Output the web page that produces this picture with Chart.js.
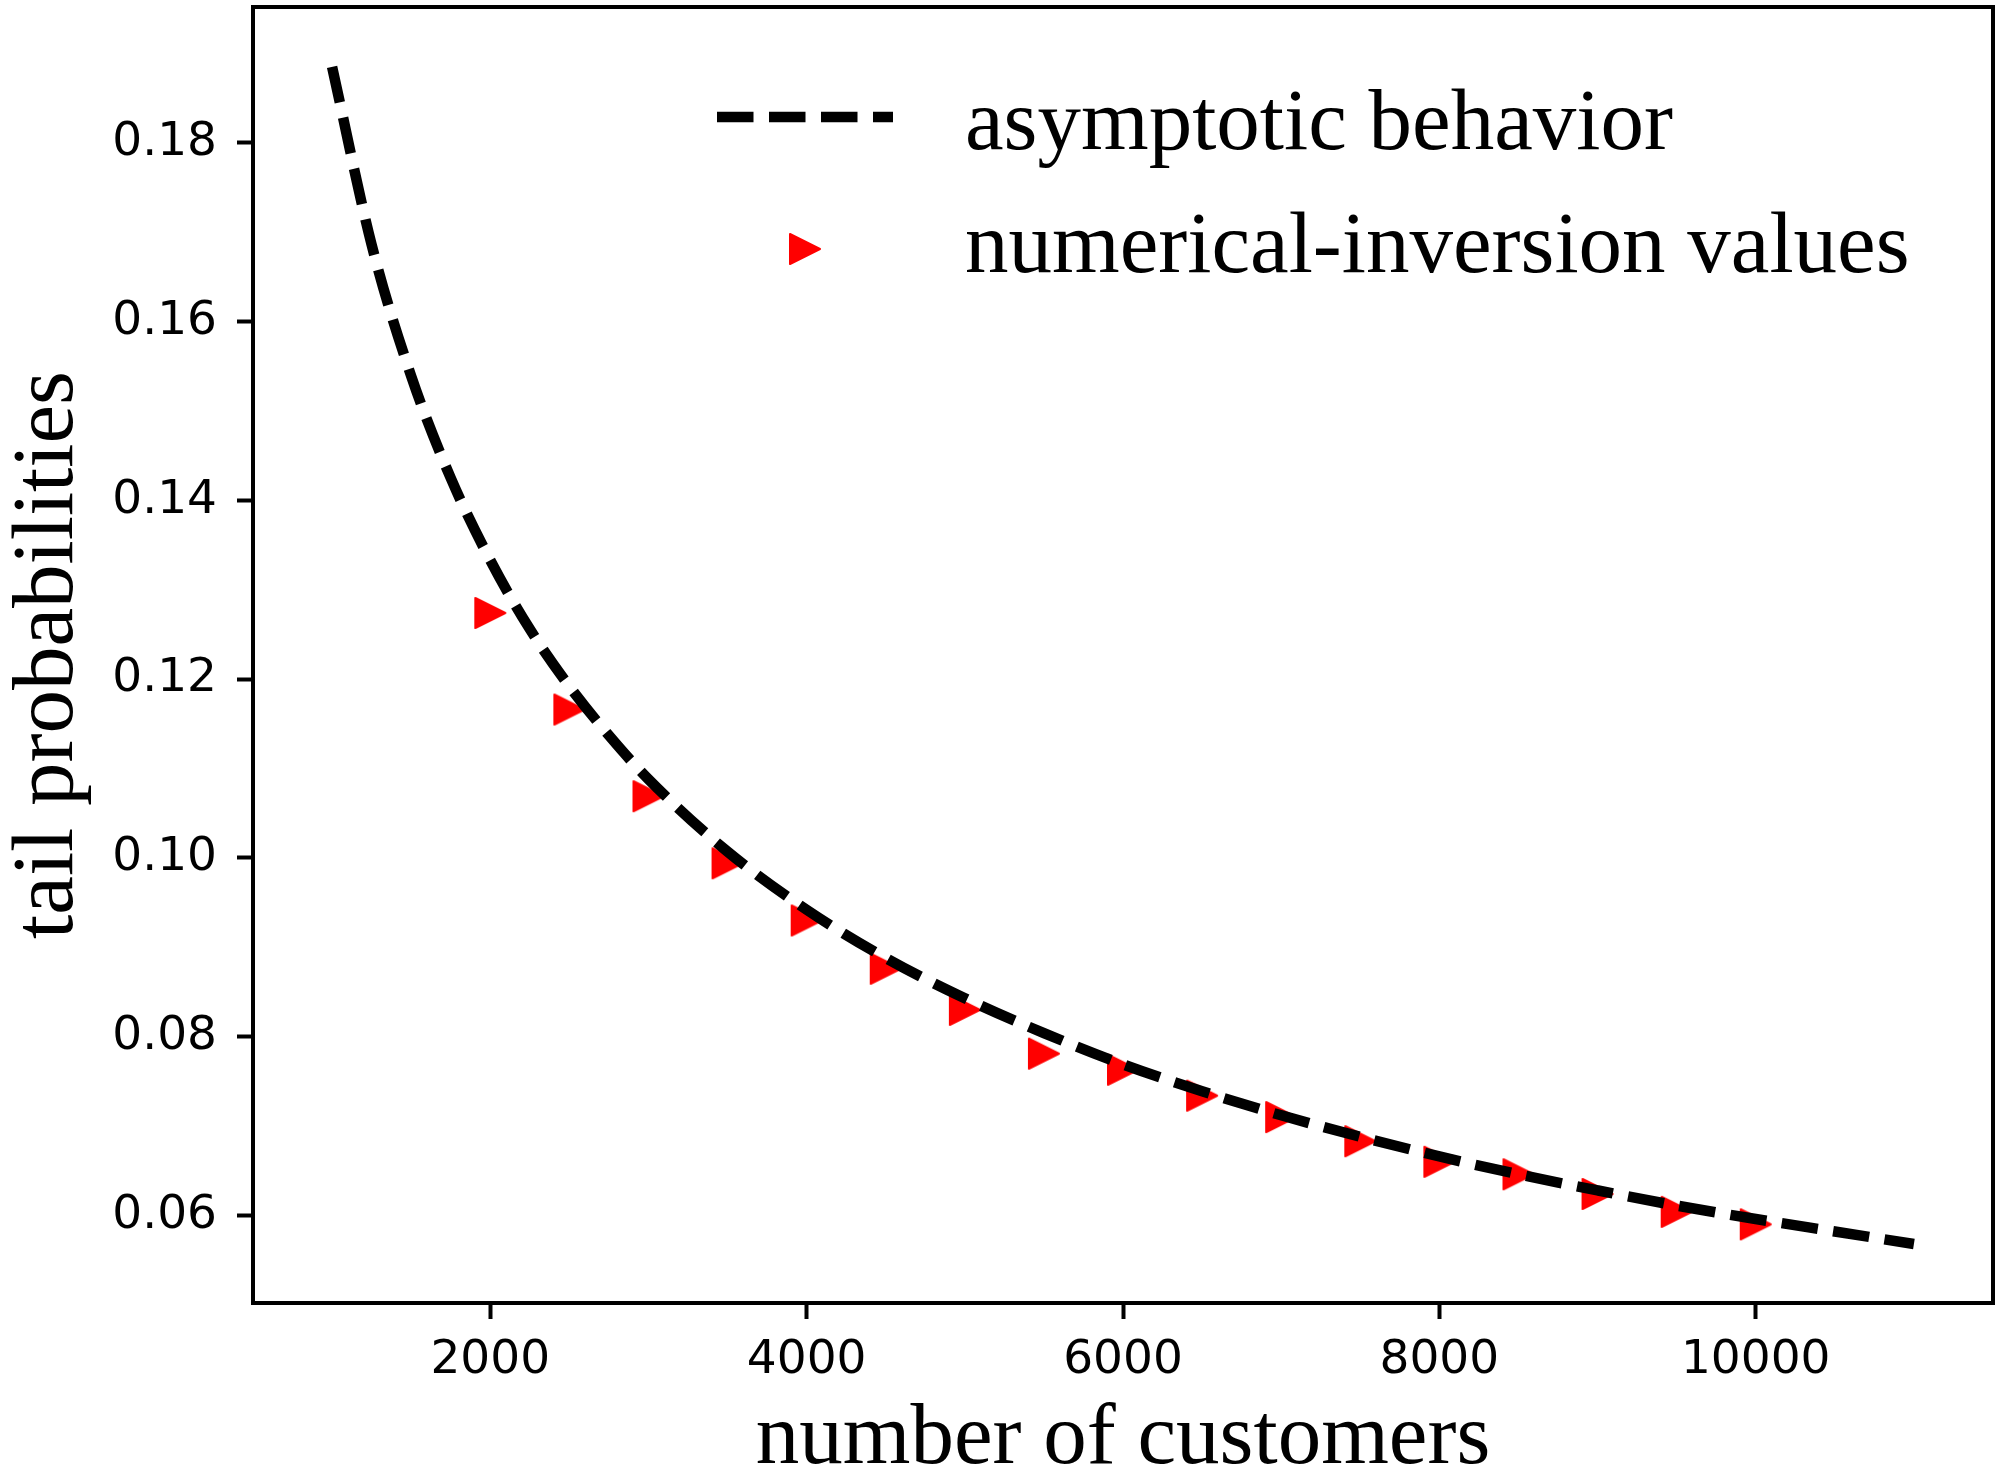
<!DOCTYPE html>
<html>
<head>
<meta charset="utf-8">
<script src="https://cdn.jsdelivr.net/npm/chart.js@4.4.1/dist/chart.umd.min.js"></script>
<style>
  html, body { margin: 0; padding: 0; background: #fff; }
  canvas { display: block; }
</style>
</head>
<body>
<canvas id="tailChart" width="2000" height="1479"></canvas>
<script>
// asymptotic curve
const curveX = [1000, 1250, 1500, 1750, 2000, 2250, 2500, 2750, 3000, 3500, 4000, 4500, 5000,
                5500, 6000, 6500, 7000, 7500, 8000, 8500, 9000, 9500, 10000, 10500, 11000];
const curveY = [0.1885, 0.1686, 0.1539, 0.1425, 0.1333, 0.1256, 0.1192, 0.1137, 0.1088, 0.1007,
                0.0942, 0.0888, 0.0843, 0.0804, 0.0769, 0.0739, 0.0712, 0.0688, 0.0666, 0.0646,
                0.0628, 0.0611, 0.0596, 0.0582, 0.0568];

// numerical-inversion markers
const markerX = [2000, 2500, 3000, 3500, 4000, 4500, 5000, 5500, 6000, 6500, 7000, 7500, 8000,
                 8500, 9000, 9500, 10000];
const markerY = [0.1274, 0.1166, 0.1069, 0.0994, 0.0930, 0.0876, 0.0830, 0.0781, 0.0763, 0.0734,
                 0.0710, 0.0683, 0.0660, 0.0646, 0.0624, 0.0604, 0.0590];

const xTicks = [2000, 4000, 6000, 8000, 10000];
const yTicks = [0.06, 0.08, 0.10, 0.12, 0.14, 0.16, 0.18];

const labels = ['asymptotic behavior', 'numerical-inversion values'];

const serif = '87px "Liberation Serif", "Times New Roman", serif';
const LINE_W = 10.5;
const DASH = [36.5, 15.5];

// right-pointing triangle marker like matplotlib '>'
const makeTriangle = function(size, color) {
    var c = document.createElement('canvas');
    c.width = size + 4;
    c.height = size + 4;
    var g = c.getContext('2d');
    g.fillStyle = color;
    g.strokeStyle = color;
    g.lineWidth = 2;
    g.lineJoin = 'round';
    g.beginPath();
    g.moveTo(3, 3);
    g.lineTo(size + 1, c.height / 2);
    g.lineTo(3, size + 1);
    g.closePath();
    g.fill();
    g.stroke();
    return c;
}
const triangle = makeTriangle(32, '#ff0000');

const zip = (xs, ys) => xs.map((x, i) => ({x: x, y: ys[i]}));

// no extra room for tick labels, the plot box is fixed
const fixBox = function(s, size) {
    if (s.isHorizontal()) s.height = size; else s.width = size;
    s.paddingTop = 0;
    s.paddingBottom = 0;
    s.paddingLeft = 0;
    s.paddingRight = 0;
}

// full box around the plot + legend + axis titles
const framePlugin = {
    id: 'frame',
    afterDatasetsDraw(chart) {
        const ctx = chart.ctx;
        const a = chart.chartArea;
        ctx.save();
        ctx.strokeStyle = '#000';
        ctx.lineWidth = 4;
        ctx.strokeRect(a.left, a.top, a.right - a.left, a.bottom - a.top);

        // legend, upper right inside the axes
        const ds = chart.data.datasets;
        ctx.font = serif;
        ctx.fillStyle = '#000';
        ctx.textAlign = 'left';
        ctx.textBaseline = 'alphabetic';

        ctx.beginPath();
        ctx.lineWidth = ds[0].borderWidth;
        ctx.strokeStyle = ds[0].borderColor;
        ctx.setLineDash(ds[0].borderDash);
        ctx.lineCap = 'butt';
        ctx.moveTo(717, 117);
        ctx.lineTo(893, 117);
        ctx.stroke();
        ctx.setLineDash([]);
        ctx.fillText(ds[0].label, 965, 149);

        ctx.drawImage(ds[1].pointStyle, 805 - triangle.width / 2, 249 - triangle.height / 2);
        ctx.fillText(ds[1].label, 965, 272);

        // axis titles
        ctx.textAlign = 'center';
        ctx.fillText('number of customers', (a.left + a.right) / 2, 1463);
        ctx.translate(72, (a.top + a.bottom) / 2);
        ctx.rotate(-Math.PI / 2);
        ctx.fillText('tail probabilities', 0, 0);
        ctx.restore();
    }
};

const tickFont = { family: '"DejaVu Sans", sans-serif', size: 47, lineHeight: 1 };

new Chart(document.getElementById('tailChart').getContext('2d'), {
    type: 'scatter',
    data: {
        datasets: [
            {
                label: labels[0],
                data: zip(curveX, curveY),
                showLine: true,
                borderColor: '#000',
                borderWidth: LINE_W,
                borderDash: DASH,
                borderCapStyle: 'butt',
                cubicInterpolationMode: 'monotone',
                pointRadius: 0,
                pointHoverRadius: 0
            },
            {
                label: labels[1],
                data: zip(markerX, markerY),
                showLine: false,
                pointStyle: triangle,
                pointRadius: 16,
                pointHoverRadius: 16,
                backgroundColor: '#ff0000',
                borderColor: '#ff0000'
            }
        ]
    },
    options: {
        responsive: false,
        devicePixelRatio: 1,
        animation: false,
        layout: { autoPadding: false, padding: { top: 7, right: 7, left: 0, bottom: 0 } },
        plugins: {
            legend: { display: false },
            tooltip: { enabled: false }
        },
        scales: {
            x: {
                type: 'linear',
                min: 500,
                max: 11500,
                afterBuildTicks: (s) => { s.ticks = xTicks.map(v => ({value: v})); },
                afterFit: (s) => fixBox(s, 176),
                grid: {
                    drawOnChartArea: false,
                    drawTicks: true,
                    tickLength: 16,
                    tickWidth: 4,
                    tickColor: '#000'
                },
                border: { display: false },
                ticks: {
                    color: '#000',
                    font: tickFont,
                    padding: 18,
                    maxRotation: 0,
                    autoSkip: false,
                    callback: (v) => String(v)
                }
            },
            y: {
                type: 'linear',
                min: 0.0502,
                max: 0.1952,
                afterBuildTicks: (s) => { s.ticks = yTicks.map(v => ({value: v})); },
                afterFit: (s) => fixBox(s, 253),
                grid: {
                    drawOnChartArea: false,
                    drawTicks: true,
                    tickLength: 16,
                    tickWidth: 4,
                    tickColor: '#000'
                },
                border: { display: false },
                ticks: {
                    color: '#000',
                    font: tickFont,
                    padding: 20,
                    autoSkip: false,
                    callback: (v) => v.toFixed(2)
                }
            }
        }
    },
    plugins: [framePlugin]
});
</script>
</body>
</html>
